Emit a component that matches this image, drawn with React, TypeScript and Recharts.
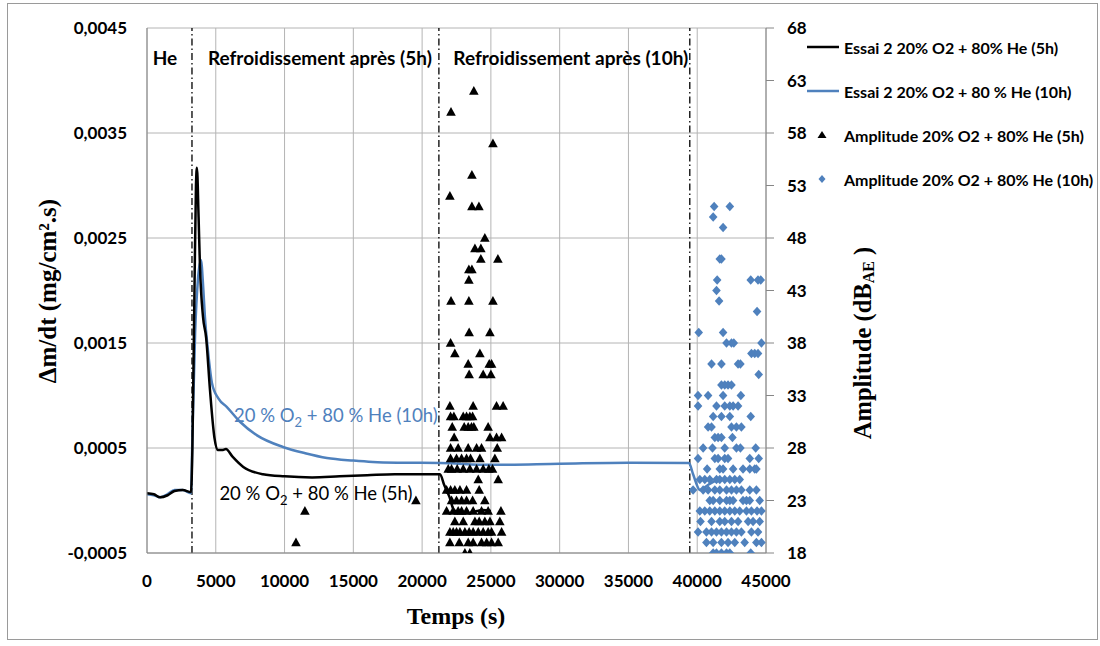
import React from 'react';
import {
  ComposedChart,
  Line,
  Scatter,
  XAxis,
  YAxis,
  CartesianGrid,
  ReferenceLine,
  ReferenceDot,
  Legend,
} from 'recharts';

// ---------- axes ----------
const timeTicks = [0, 5000, 10000, 15000, 20000, 25000, 30000, 35000, 40000, 45000];
const rateTicks = [-0.0005, 0.0005, 0.0015, 0.0025, 0.0035, 0.0045];
const ampTicks = [18, 23, 28, 33, 38, 43, 48, 53, 58, 63, 68];

// ---------- Essai 2 20% O2 + 80% He (5h) : dm/dt ----------
const time5h = [
  0, 500, 950, 1500, 2000, 2600, 3200, 3300, 3450, 3560, 3630, 3750, 3850, 4070, 4300,
  4580, 4900, 5160, 5450, 5740, 6200, 7000, 8430, 10000, 12000, 14000, 16000, 18000,
  20000, 21300, 21600, 22000, 22300, 22800, 23500, 24000, 24400, 25000,
];
const rate5h = [
  0.00007, 0.00006, 0.00003, 0.00005, 0.00009, 0.0001, 0.00008, 0.0005, 0.002, 0.003,
  0.00317, 0.0027, 0.00223, 0.00175, 0.00155, 0.00105, 0.0006, 0.00048, 0.00048, 0.00049,
  0.00042, 0.00032, 0.00025, 0.00023, 0.00022, 0.00023, 0.00024, 0.00025, 0.00025,
  0.00025, 0.00015, 0.00003, -0.00009, -0.00012, -0.00012, -0.0001, -0.00009, -0.0001,
];

// ---------- Essai 2 20% O2 + 80 % He (10h) : dm/dt ----------
const time10h = [
  0, 500, 950, 1500, 2000, 2600, 3200, 3300, 3500, 3700, 3920, 4100, 4210, 4430, 4720,
  5200, 5810, 6760, 8000, 9880, 11500, 13080, 15000, 16420, 18500, 21300, 25000, 30000,
  35000, 39400, 39700, 40200, 40800, 41420, 42000,
];
const rate10h = [
  0.00006, 0.00005, 0.00003, 0.00006, 0.0001, 0.0001, 0.00007, 0.0006, 0.0016, 0.0021,
  0.00229, 0.002, 0.00175, 0.00143, 0.00112, 0.00097, 0.00089, 0.00075, 0.00062, 0.00051,
  0.00045, 0.000405, 0.00038, 0.000367, 0.00036, 0.000357, 0.00034, 0.00035, 0.00036,
  0.000357, 0.00025, 0.0001, 0.00015, 0.00019, 0.0002,
];

// ---------- Amplitude 20% O2 + 80% He (5h) : [amplitude, times] ----------
const amp5hRows: [number, number[]][] = [
  [62, [23760]],
  [60, [22100]],
  [57, [25150]],
  [54, [23620]],
  [52, [22020]],
  [51, [23620, 24130]],
  [48, [24560]],
  [47, [23840, 24270]],
  [46, [24270, 25510]],
  [45, [23400, 23620]],
  [44, [23400]],
  [42, [22100, 23400, 25150]],
  [39, [23420, 24930]],
  [38, [22070]],
  [37, [22380, 24200]],
  [36, [23350, 24880, 25050]],
  [35, [23420, 24440, 25000]],
  [32, [22020, 23710, 25410, 25890]],
  [31, [22070, 22310, 22990, 23230, 23470, 23670]],
  [30, [22190, 23060, 23350, 23590, 23760, 24800]],
  [29, [22330, 24930, 25410, 25780]],
  [28, [22070, 22620, 23350, 23960, 24320, 25460]],
  [27, [22070, 22500, 22870, 23230, 23520, 24200, 25290]],
  [26, [21900, 22140, 22550, 22990, 23470, 23960, 24440, 24850, 25120]],
  [25, [24080, 25530]],
  [24, [21780, 22070, 22380, 22750, 23230, 24150]],
  [23, [19550, 22140, 22500, 22870, 23230, 23670, 24560]],
  [22, [11480, 21780, 22260, 22620, 22870, 23230, 23710, 24320, 24800, 25730]],
  [21, [22380, 22990, 23840, 24150, 24560, 24930, 25650]],
  [20, [22020, 22260, 22500, 22750, 23110, 23420, 23710, 24080, 24440, 24800, 25050, 25780]],
  [19, [10830, 22020, 22700, 23350, 23710, 24320, 24690, 25050, 25530]],
  [18, [23110, 23470]],
];

// ---------- Amplitude 20% O2 + 80% He (10h) : [amplitude, times] ----------
const amp10hRows: [number, number[]][] = [
  [51, [41230, 42370]],
  [50, [41160]],
  [49, [41880]],
  [46, [41640, 41760]],
  [44, [41450, 43890, 44420, 44620]],
  [43, [41400]],
  [42, [41590]],
  [41, [44350]],
  [39, [40110, 41880]],
  [38, [42130, 42490, 42660, 44670]],
  [37, [43940, 44180, 44420]],
  [36, [41040, 41760, 42970, 43140]],
  [35, [44470]],
  [34, [41760, 42000, 42240, 42490]],
  [33, [40060, 40790, 41880, 43170]],
  [32, [40060, 41400, 42000, 42370, 42610, 42970]],
  [31, [41160, 41760, 42370, 43890]],
  [30, [40790, 41040, 42490, 42850, 43210]],
  [29, [41280, 41520, 41760, 42560]],
  [28, [40430, 41110, 42000, 42850, 43140, 44250]],
  [27, [40060, 41280, 41520, 42000, 42240, 43820, 44470]],
  [26, [40720, 41640, 41880, 42610, 43330, 43820, 44180, 44300]],
  [25, [40190, 40550, 40910, 41400, 41640, 42000, 42370, 42730, 43090]],
  [24, [39700, 40430, 40790, 41280, 41640, 42130, 42490, 42850, 43210, 43820, 44300]],
  [23, [40910, 41160, 41640, 42130, 42370, 42610, 43330, 43580, 43820, 44540]],
  [22, [40190, 40550, 40910, 41280, 41640, 42000, 42370, 42730, 43090, 43580, 43940, 44350, 44670]],
  [21, [40240, 41040, 41640, 42000, 42490, 42970, 43700, 44060, 44540]],
  [20, [40060, 40670, 41040, 41400, 41760, 42130, 42490, 42850, 43210, 43940, 44420]],
  [19, [40670, 41160, 41760, 42240, 42730, 43450, 44300, 44670]],
  [18, [41160, 41400, 41760, 42130, 42370, 43890]],
];

// ---------- phase boundaries & annotations ----------
const phaseBoundaries = [3270, 21220, 39460];
const phaseLabels = ['He', 'Refroidissement après (5h)', 'Refroidissement après (10h)'];
const phaseLabelTimes = [1300, 12570, 30810];
const phaseLabelRate = 0.00422;
const curveLabelTimes = [13730, 12280];
const curveLabelRates = [0.00081, 0.00007];

const BLUE = '#4f81bd';
const GRID = '#b4b4b4';
const AXIS = '#868686';
const SANS = 'Lato, "Open Sans", sans-serif';
const SERIF = '"Liberation Serif", "DejaVu Serif", serif';

const line5h = time5h.map((t, i) => ({ t, v: rate5h[i] }));
const line10h = time10h.map((t, i) => ({ t, v: rate10h[i] }));
const pts5h = amp5hRows.flatMap(([a, ts]) => ts.map((t) => ({ t, a })));
const pts10h = amp10hRows.flatMap(([a, ts]) => ts.map((t) => ({ t, a })));

const Triangle = (props: any) => {
  const { cx, cy } = props;
  if (cx == null || cy == null) return null;
  return (
    <polygon
      points={`${cx},${cy - 5} ${cx - 4.8},${cy + 3.8} ${cx + 4.8},${cy + 3.8}`}
      fill="#000"
    />
  );
};

const Diamond = (props: any) => {
  const { cx, cy } = props;
  if (cx == null || cy == null) return null;
  return (
    <polygon
      points={`${cx},${cy - 4.7} ${cx + 4.3},${cy} ${cx},${cy + 4.7} ${cx - 4.3},${cy}`}
      fill={BLUE}
    />
  );
};

const makeTextLabel = (text: string) => (props: any) => {
  const vb = props.viewBox || {};
  const x = (vb.x ?? 0) + (vb.width ?? 0) / 2;
  const y = (vb.y ?? 0) + (vb.height ?? 0) / 2;
  return (
    <text
      x={x}
      y={y}
      textAnchor="middle"
      dominantBaseline="central"
      fontFamily={SANS}
      fontWeight={700}
      fontSize={19}
      fill="#000"
    >
      {text}
    </text>
  );
};

const makeCurveLabel = (hours: string, color: string) => (props: any) => {
  const vb = props.viewBox || {};
  const x = (vb.x ?? 0) + (vb.width ?? 0) / 2;
  const y = (vb.y ?? 0) + (vb.height ?? 0) / 2;
  return (
    <text
      x={x}
      y={y + 7}
      textAnchor="middle"
      fontFamily={SANS}
      fontWeight={400}
      fontSize={18.5}
      fill={color}
    >
      <tspan>20 % O</tspan>
      <tspan dy={5} fontSize={13}>2</tspan>
      <tspan dy={-5}>{`  + 80 % He (${hours})`}</tspan>
    </text>
  );
};

const legendItems = [
  { kind: 'line', color: '#000', text: 'Essai 2 20% O2 + 80% He (5h)' },
  { kind: 'line', color: BLUE, text: 'Essai 2 20% O2 + 80 % He (10h)' },
  { kind: 'tri', color: '#000', text: 'Amplitude 20% O2 + 80% He (5h)' },
  { kind: 'dia', color: BLUE, text: 'Amplitude 20% O2 + 80% He (10h)' },
];

const renderLegend = () => (
  <div style={{ width: 290 }}>
    {legendItems.map((it, i) => (
      <div
        key={i}
        style={{
          height: 44,
          display: 'flex',
          alignItems: 'center',
          fontFamily: SANS,
          fontWeight: 700,
          fontSize: 16,
          color: '#000',
          whiteSpace: 'nowrap',
        }}
      >
        <svg width={37} height={12} style={{ flex: 'none' }}>
          {it.kind === 'line' && (
            <line x1={0} y1={6} x2={32} y2={6} stroke={it.color} strokeWidth={2.5} />
          )}
          {it.kind === 'tri' && <polygon points="15,2 10.5,9 19.5,9" fill={it.color} />}
          {it.kind === 'dia' && <polygon points="15,2 18.5,6 15,10 11.5,6" fill={it.color} />}
        </svg>
        <span>{it.text}</span>
      </div>
    ))}
  </div>
);

const LeftTitle = (props: any) => (
  <text
    x={47}
    y={291}
    transform="rotate(-90, 47, 291)"
    textAnchor="middle"
    dominantBaseline="central"
    fontFamily={SERIF}
    fontWeight={700}
    fontSize={25}
    fill="#000"
  >
    Δm/dt (mg/cm².s)
  </text>
);

const RightTitle = (props: any) => (
  <text
    x={862}
    y={343}
    transform="rotate(-90, 862, 343)"
    textAnchor="middle"
    dominantBaseline="central"
    fontFamily={SERIF}
    fontWeight={700}
    fontSize={24.5}
    fill="#000"
  >
    <tspan>Amplitude (dB</tspan>
    <tspan dy={6} fontSize={16}>AE</tspan>
    <tspan dy={-6}> )</tspan>
  </text>
);

const BottomTitle = (props: any) => (
  <text
    x={456}
    y={616}
    textAnchor="middle"
    dominantBaseline="central"
    fontFamily={SERIF}
    fontWeight={700}
    fontSize={24}
    fill="#000"
  >
    Temps (s)
  </text>
);

const fmtRate = (v: number) => v.toFixed(4).replace('.', ',');

export default function App() {
  return (
    <div style={{ position: 'absolute', left: 0, top: 0, width: 1100, height: 646, background: '#fff' }}>
      <div
        style={{
          position: 'absolute',
          left: 7,
          top: 3,
          width: 1089,
          height: 635,
          border: '1px solid #9a9a9a',
        }}
      />
      <div style={{ position: 'absolute', left: 0, top: 0 }}>
        <ComposedChart
          width={1100}
          height={646}
          margin={{ top: 28, right: 0, bottom: 33, left: 0 }}
        >
          <CartesianGrid xAxisId="x" yAxisId="left" stroke={GRID} strokeWidth={1} />
          <XAxis
            xAxisId="x"
            type="number"
            dataKey="t"
            domain={[0, 45000]}
            ticks={timeTicks}
            allowDataOverflow
            height={60}
            axisLine={{ stroke: AXIS }}
            tickLine={false}
            tickSize={0}
            tickMargin={22}
            tick={{ fontFamily: SANS, fontWeight: 700, fontSize: 17, fill: '#000' }}
            interval={0}
            label={<BottomTitle />}
          />
          <YAxis
            yAxisId="left"
            orientation="left"
            type="number"
            domain={[-0.0005, 0.0045]}
            ticks={rateTicks}
            allowDataOverflow
            width={147}
            axisLine={{ stroke: AXIS }}
            tickLine={false}
            tickSize={0}
            tickMargin={20}
            tickFormatter={fmtRate}
            tick={{ fontFamily: SANS, fontWeight: 700, fontSize: 17, fill: '#000' }}
            interval={0}
            label={<LeftTitle />}
          />
          <YAxis
            yAxisId="right"
            orientation="right"
            type="number"
            domain={[18, 68]}
            ticks={ampTicks}
            allowDataOverflow
            width={44}
            axisLine={{ stroke: AXIS }}
            tickLine={{ stroke: AXIS }}
            tickSize={8}
            tickMargin={13}
            tick={{ fontFamily: SANS, fontWeight: 700, fontSize: 17, fill: '#000' }}
            interval={0}
            label={<RightTitle />}
          />
          <Legend
            layout="vertical"
            align="right"
            verticalAlign="top"
            content={renderLegend}
            wrapperStyle={{ position: 'absolute', left: 807, top: 25, width: 290, margin: 0, padding: 0 }}
          />
          {phaseBoundaries.map((b, i) => (
            <ReferenceLine
              key={`b${i}`}
              x={b}
              xAxisId="x"
              yAxisId="left"
              stroke="#000"
              strokeWidth={1.3}
              strokeDasharray="7 3 1.5 3"
            />
          ))}
          <Line
            data={line10h}
            dataKey="v"
            xAxisId="x"
            yAxisId="left"
            type="monotone"
            stroke={BLUE}
            strokeWidth={2.5}
            dot={false}
            isAnimationActive={false}
            legendType="line"
            name="Essai 2 20% O2 + 80 % He (10h)"
          />
          <Line
            data={line5h}
            dataKey="v"
            xAxisId="x"
            yAxisId="left"
            type="monotone"
            stroke="#000"
            strokeWidth={2.5}
            dot={false}
            isAnimationActive={false}
            legendType="line"
            name="Essai 2 20% O2 + 80% He (5h)"
          />
          <Scatter
            data={pts5h}
            dataKey="a"
            xAxisId="x"
            yAxisId="right"
            shape={Triangle}
            isAnimationActive={false}
            name="Amplitude 20% O2 + 80% He (5h)"
          />
          <Scatter
            data={pts10h}
            dataKey="a"
            xAxisId="x"
            yAxisId="right"
            shape={Diamond}
            isAnimationActive={false}
            name="Amplitude 20% O2 + 80% He (10h)"
          />
          {phaseLabels.map((txt, i) => (
            <ReferenceDot
              key={`p${i}`}
              x={phaseLabelTimes[i]}
              y={phaseLabelRate}
              xAxisId="x"
              yAxisId="left"
              r={0}
              fill="none"
              stroke="none"
              label={makeTextLabel(txt)}
            />
          ))}
          <ReferenceDot
            x={curveLabelTimes[0]}
            y={curveLabelRates[0]}
            xAxisId="x"
            yAxisId="left"
            r={0}
            fill="none"
            stroke="none"
            label={makeCurveLabel('10h', BLUE)}
          />
          <ReferenceDot
            x={curveLabelTimes[1]}
            y={curveLabelRates[1]}
            xAxisId="x"
            yAxisId="left"
            r={0}
            fill="none"
            stroke="none"
            label={makeCurveLabel('5h', '#000')}
          />
        </ComposedChart>
      </div>
    </div>
  );
}
